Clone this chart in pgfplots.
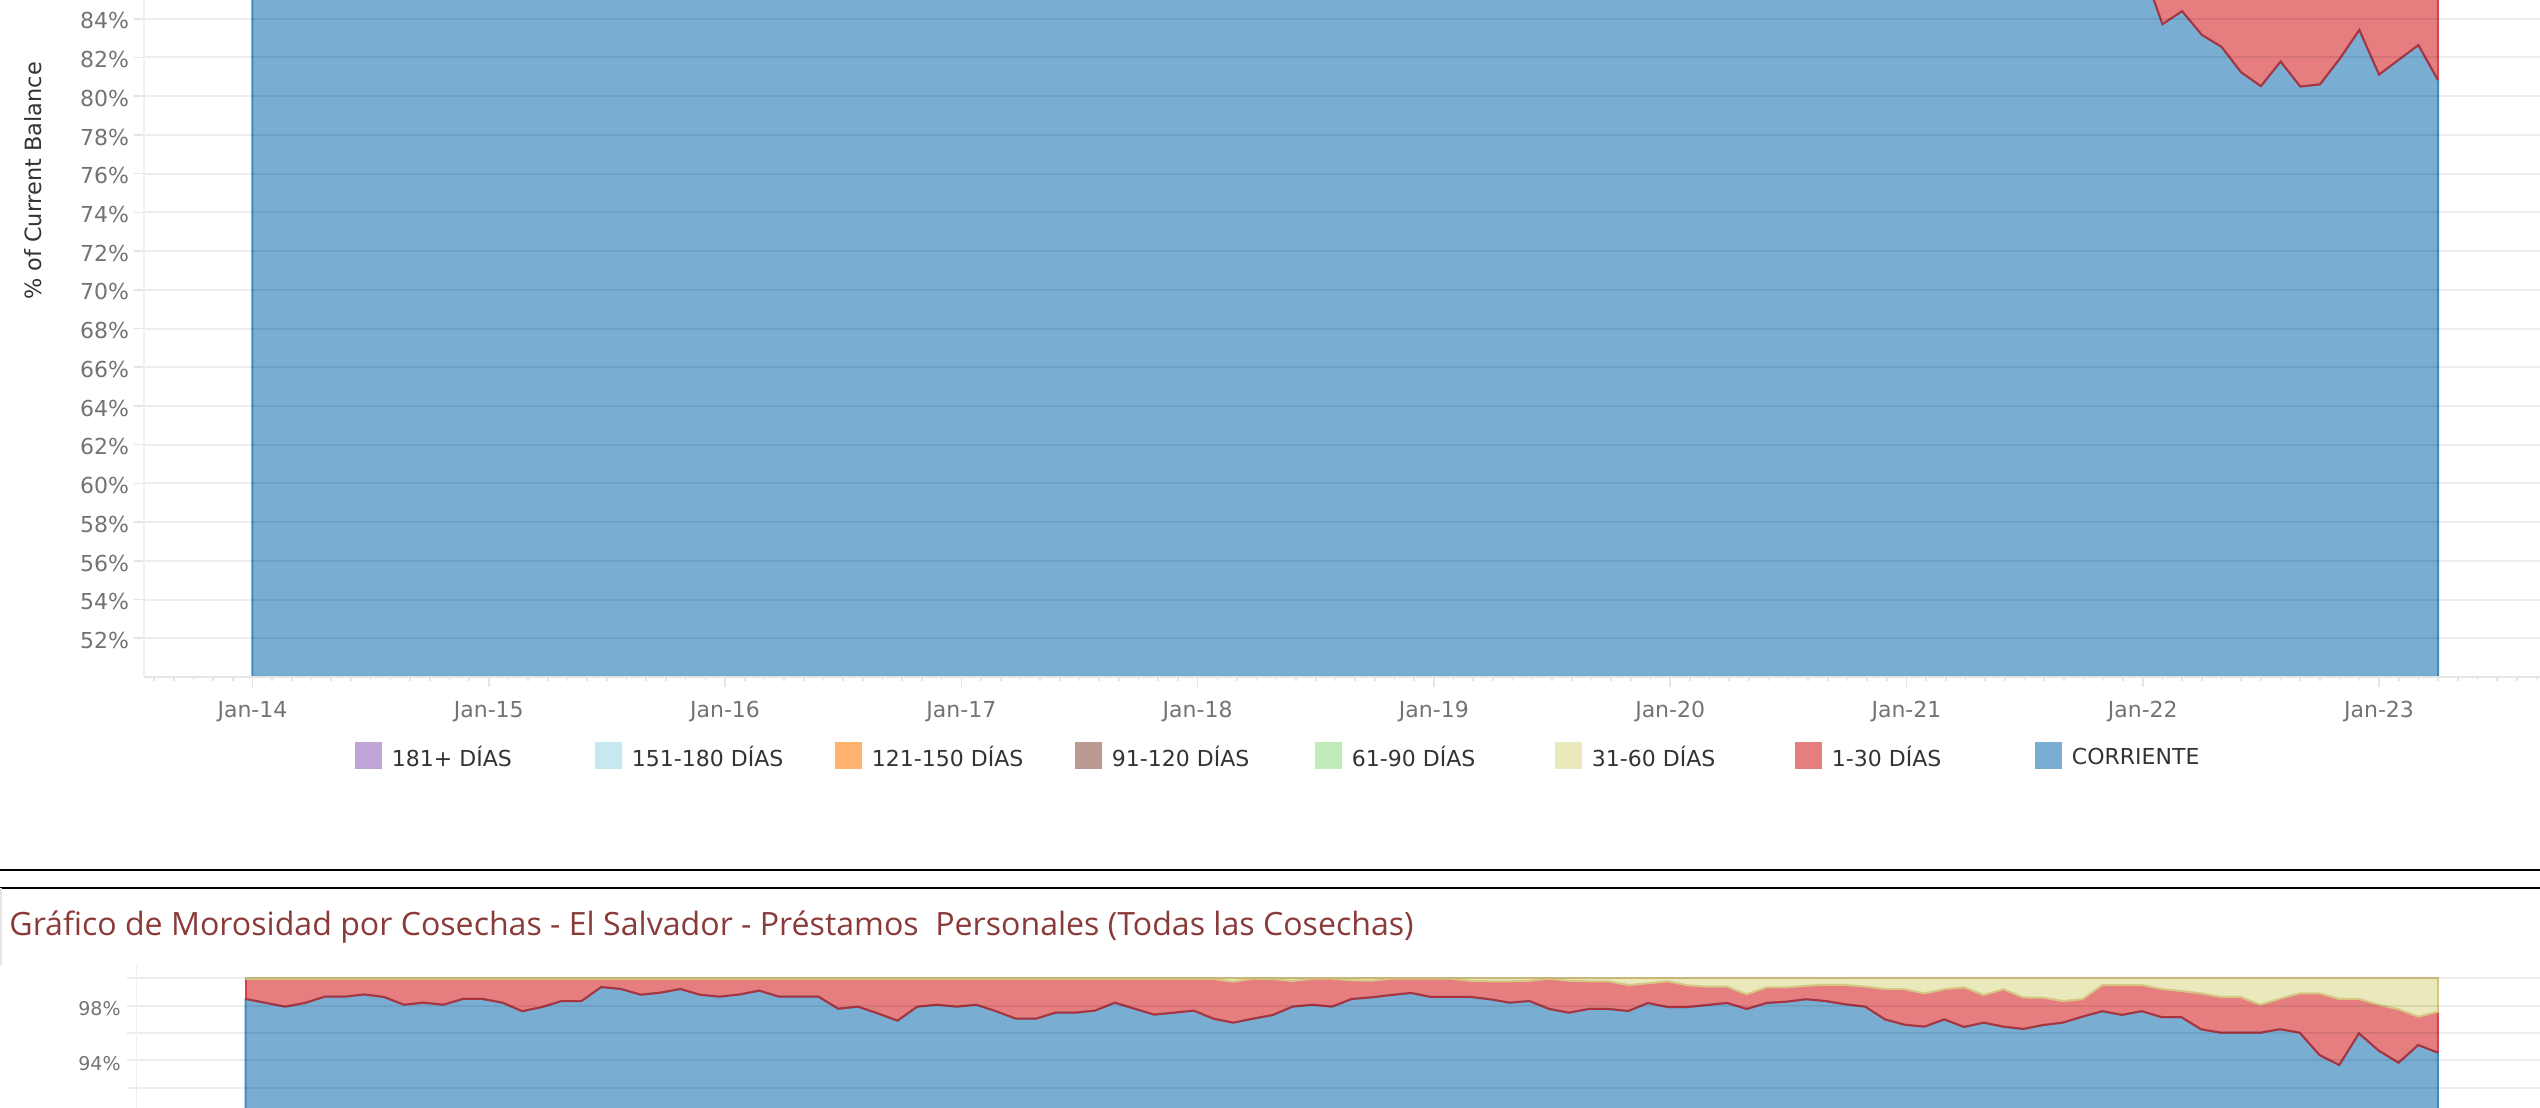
\documentclass[border=0pt]{standalone}
\usepackage{fontspec}
\setmainfont{DejaVu Sans}
\newfontfamily\titlefont{Open Sans}
\usepackage{pgfplots}
\pgfplotsset{compat=1.18}
\usepackage{pgfplotstable}

\definecolor{tBlue}{HTML}{1F77B4}
\definecolor{tRed}{HTML}{D62728}
\definecolor{tYel}{HTML}{DBDB8D}
\definecolor{tGreen}{HTML}{98DF8A}
\definecolor{tBrown}{HTML}{8C564B}
\definecolor{tOrange}{HTML}{FF7F0E}
\definecolor{tCyan}{HTML}{9EDAE5}
\definecolor{tPurple}{HTML}{9467BD}
\definecolor{tTitle}{RGB}{139,58,58}
\definecolor{tTan}{HTML}{D6C583}
\colorlet{fBlue}{tBlue!60!white}
\colorlet{fRed}{tRed!60!white}
\colorlet{fYel}{tYel!60!white}
\colorlet{fPurple}{tPurple!60!white}
\colorlet{fCyan}{tCyan!60!white}
\colorlet{fOrange}{tOrange!60!white}
\colorlet{fBrown}{tBrown!60!white}
\colorlet{fGreen}{tGreen!60!white}

% CORRIENTE share, top chart (month index 0 = Jan-14)
\pgfplotstableread{
k B
0 98.5
1 98.3
2 98.1
3 98.2
4 98.6
5 98.7
6 98.8
7 98.6
8 98.1
9 98.2
10 98.0
11 98.4
12 98.5
13 98.2
14 97.6
15 97.9
16 98.3
17 98.3
18 99.2
19 99.1
20 98.8
21 98.9
22 99.1
23 98.8
24 98.6
25 98.8
26 99.0
27 98.6
28 98.6
29 98.6
30 97.8
31 97.9
32 97.4
33 96.9
34 97.9
35 98.0
36 97.9
37 98.0
38 97.6
39 97.1
40 97.0
41 97.4
42 97.4
43 97.6
44 98.1
45 97.7
46 97.3
47 97.4
48 97.6
49 97.0
50 96.7
51 97.0
52 97.3
53 97.9
54 98.0
55 97.9
56 98.4
57 98.5
58 98.7
59 98.9
60 98.6
61 98.6
62 98.5
63 98.4
64 98.2
65 98.3
66 97.7
67 97.4
68 97.7
69 97.7
70 97.5
71 98.1
72 97.8
73 97.8
74 97.9
75 98.1
76 97.7
77 98.2
78 98.3
79 98.4
80 98.3
81 98.0
82 97.8
83 96.9
84 96.2
85 95.4
86 94.9
87 93.6
88 93.1
89 92.0
90 91.7
91 90.4
92 90.2
93 89.1
94 89.3
95 88.4
96 86.57
97 83.72
98 84.39
99 83.17
100 82.55
101 81.23
102 80.52
103 81.79
104 80.50
105 80.61
106 81.93
107 83.42
108 81.12
109 81.88
110 82.64
111 80.82
}\topdata

% bottom chart: B = CORRIENTE, R = CORRIENTE + 1-30 DIAS
\pgfplotstableread{
k B R
0 98.49 99.95
1 98.21 99.95
2 97.93 99.95
3 98.20 99.95
4 98.66 99.95
5 98.66 99.95
6 98.82 99.95
7 98.64 99.95
8 98.07 99.95
9 98.22 99.95
10 98.07 99.95
11 98.49 99.95
12 98.49 99.95
13 98.22 99.95
14 97.60 99.95
15 97.90 99.95
16 98.34 99.95
17 98.34 99.95
18 99.36 99.95
19 99.22 99.95
20 98.80 99.95
21 98.95 99.95
22 99.22 99.95
23 98.80 99.95
24 98.66 99.95
25 98.82 99.95
26 99.10 99.95
27 98.66 99.95
28 98.66 99.95
29 98.66 99.95
30 97.78 99.95
31 97.93 99.95
32 97.44 99.95
33 96.91 99.95
34 97.93 99.95
35 98.07 99.95
36 97.93 99.95
37 98.07 99.95
38 97.59 99.95
39 97.05 99.95
40 97.05 99.95
41 97.49 99.95
42 97.49 99.95
43 97.64 99.95
44 98.22 99.95
45 97.78 99.95
46 97.35 99.95
47 97.49 99.95
48 97.64 99.95
49 97.05 99.95
50 96.76 99.75
51 97.05 99.97
52 97.32 99.95
53 97.93 99.80
54 98.07 99.97
55 97.93 99.97
56 98.49 99.85
57 98.61 99.82
58 98.78 99.97
59 98.93 99.97
60 98.64 99.97
61 98.64 99.97
62 98.64 99.82
63 98.47 99.78
64 98.22 99.78
65 98.34 99.82
66 97.76 99.97
67 97.49 99.82
68 97.76 99.78
69 97.76 99.78
70 97.61 99.51
71 98.20 99.63
72 97.90 99.78
73 97.90 99.49
74 98.05 99.39
75 98.20 99.39
76 97.76 98.83
77 98.20 99.34
78 98.29 99.34
79 98.47 99.45
80 98.34 99.53
81 98.10 99.51
82 97.93 99.39
83 97.00 99.22
84 96.61 99.20
85 96.47 98.90
86 97.00 99.20
87 96.45 99.34
88 96.76 98.78
89 96.47 99.20
90 96.30 98.60
91 96.59 98.59
92 96.76 98.34
93 97.20 98.47
94 97.60 99.51
95 97.33 99.51
96 97.60 99.51
97 97.17 99.22
98 97.17 99.07
99 96.28 98.90
100 96.03 98.64
101 96.03 98.64
102 96.03 98.07
103 96.28 98.51
104 96.03 98.90
105 94.40 98.90
106 93.67 98.49
107 95.98 98.49
108 94.72 98.07
109 93.84 97.74
110 95.13 97.20
111 94.57 97.56
}\botdata

\begin{document}
\begin{tikzpicture}

% ---------------- top chart ----------------
\begin{axis}[
  at={(72pt,215.5pt)}, anchor=south west,
  scale only axis,
  x=9.845pt, y=9.68pt,
  xmin=-5.51, xmax=117, ymin=50, ymax=100,
  axis on top,
  axis x line*=bottom, axis y line*=left,
  x axis line style={draw=black!10, line width=1pt},
  y axis line style={draw=black!6, line width=0.6pt},
  tick align=outside,
  major tick length=5pt, minor tick length=2.25pt,
  tick style={draw=black!10, line width=0.8pt},
  xtick={-12,0,12,24,36,48,60,72,84,96,108,120},
  xticklabels={Jan-13,Jan-14,Jan-15,Jan-16,Jan-17,Jan-18,Jan-19,Jan-20,Jan-21,Jan-22,Jan-23,Jan-24},
  minor x tick num=11,
  ytick={52,54,...,84},
  extra y ticks={86,88,...,100},
  extra y tick labels={},
  yticklabel={\pgfmathprintnumber{\tick}\%},
  /pgf/number format/assume math mode=true,
  ymajorgrids,
  grid style={draw=black, draw opacity=0.07, line width=1pt},
  extra y tick style={grid=major},
  tick label style={font=\fontsize{11pt}{13pt}\selectfont, text=black!55, inner sep=0pt},
  yticklabel style={anchor=east, yshift=-1.1pt},
  xticklabel style={anchor=north},
  yticklabel shift=2.25pt, xticklabel shift=7pt,
  legend columns=8,
  legend cell align=left,
  legend style={at={(0.08747,-0.0814)}, anchor=west,
    draw=none, fill=none, inner sep=0pt, outer sep=0pt,
    font=\fontsize{11pt}{13pt}\selectfont, text=black!80,
    /tikz/every odd column/.style={column sep=5pt},
    nodes={inner sep=0pt}},
]
% 1-30 DIAS band (stack top = 100 %)
\addplot[fill=fRed, draw=none, forget plot] coordinates {(0,100) (111,100)} \closedcycle;
% CORRIENTE
\addplot[fill=fBlue, draw=tBlue!85, line width=1pt, forget plot] table[x=k,y=B]{\topdata} \closedcycle;
\addplot[draw=tRed!90!black, draw opacity=0.85, line width=1pt, forget plot] table[x=k,y=B]{\topdata};
\addplot[draw=tRed, draw opacity=0.8, line width=1pt, forget plot] coordinates {(111,80.82) (111,100)};

\addlegendimage{legend image code/.code={\path[fill=fPurple, draw=none] (0pt,-5.25pt) rectangle (13.5pt,8.25pt);}}
\addlegendentry{\makebox[101.5pt][l]{181+ DÍAS}}
\addlegendimage{legend image code/.code={\path[fill=fCyan, draw=none] (0pt,-5.25pt) rectangle (13.5pt,8.25pt);}}
\addlegendentry{\makebox[101.5pt][l]{151-180 DÍAS}}
\addlegendimage{legend image code/.code={\path[fill=fOrange, draw=none] (0pt,-5.25pt) rectangle (13.5pt,8.25pt);}}
\addlegendentry{\makebox[101.5pt][l]{121-150 DÍAS}}
\addlegendimage{legend image code/.code={\path[fill=fBrown, draw=none] (0pt,-5.25pt) rectangle (13.5pt,8.25pt);}}
\addlegendentry{\makebox[101.5pt][l]{91-120 DÍAS}}
\addlegendimage{legend image code/.code={\path[fill=fGreen, draw=none] (0pt,-5.25pt) rectangle (13.5pt,8.25pt);}}
\addlegendentry{\makebox[101.5pt][l]{61-90 DÍAS}}
\addlegendimage{legend image code/.code={\path[fill=fYel, draw=none] (0pt,-5.25pt) rectangle (13.5pt,8.25pt);}}
\addlegendentry{\makebox[101.5pt][l]{31-60 DÍAS}}
\addlegendimage{legend image code/.code={\path[fill=fRed, draw=none] (0pt,-5.25pt) rectangle (13.5pt,8.25pt);}}
\addlegendentry{\makebox[101.5pt][l]{1-30 DÍAS}}
\addlegendimage{legend image code/.code={\path[fill=fBlue, draw=none] (0pt,-5.25pt) rectangle (13.5pt,8.25pt);}}
\addlegendentry{\makebox[101.5pt][l]{CORRIENTE}}
\end{axis}

\node[rotate=90, text=black!80, font=\fontsize{11.2pt}{13pt}\selectfont] at (16.5pt,463.5pt) {\% of Current Balance};

% separators
\draw[line width=1pt] (0pt,119pt) -- (1270pt,119pt);
\draw[line width=1pt] (0pt,110pt) -- (1270pt,110pt);
\draw[black!10, line width=0.6pt] (0.5pt,110pt) -- (0.5pt,71.5pt);

\node[anchor=base west, inner sep=0pt, text=tTitle, font=\titlefont\fontsize{16.05pt}{19pt}\selectfont] at (4.5pt,86pt)
  {Gráfico de Morosidad por Cosechas - El Salvador - Préstamos\ \ Personales (Todas las Cosechas)};

% ---------------- bottom chart ----------------
\begin{axis}[
  at={(68.35pt,-31.05pt)}, anchor=south west,
  scale only axis,
  x=9.875pt, y=6.85pt,
  xmin=-5.52, xmax=117, ymin=86, ymax=100.97,
  axis on top,
  hide x axis,
  axis y line*=left,
  y axis line style={draw=black!6, line width=0.6pt},
  tick align=outside,
  major tick length=5pt, minor tick length=5pt,
  tick style={draw=black!7, line width=1pt},
  ytick={94,98}, minor ytick={88,90,92,96,100},
  yticklabel={\pgfmathprintnumber{\tick}\%},
  /pgf/number format/assume math mode=true,
  ymajorgrids, yminorgrids,
  major grid style={draw=black, draw opacity=0.07, line width=1pt},
  minor grid style={draw=black, draw opacity=0.07, line width=1pt},
  tick label style={font=\fontsize{9.5pt}{11pt}\selectfont, text=black!55, inner sep=0pt},
  yticklabel style={anchor=east, yshift=-1.4pt},
  yticklabel shift=2.85pt,
]
% 31-60 DIAS band (stack top = 100 %)
\addplot[fill=fYel, draw=none, forget plot] coordinates {(0,100) (111,100)} \closedcycle;
% 1-30 DIAS band
\addplot[fill=fRed, draw=none, forget plot] table[x=k,y=R]{\botdata} \closedcycle;
% CORRIENTE
\addplot[fill=fBlue, draw=tBlue!85, line width=1pt, forget plot] table[x=k,y=B]{\botdata} \closedcycle;
\addplot[draw=tRed!90!black, draw opacity=0.85, line width=1pt, forget plot] table[x=k,y=B]{\botdata};
\addplot[draw=tRed, draw opacity=0.8, line width=1pt, forget plot] coordinates {(0,98.49) (0,99.95)};
\addplot[draw=tRed, draw opacity=0.8, line width=1pt, forget plot] coordinates {(111,94.57) (111,97.56)};
\addplot[draw=tTan, line width=1pt, forget plot] table[x=k,y=R]{\botdata};
\addplot[draw=tTan, line width=1pt, forget plot] coordinates {(0,99.95) (0,100) (111,100) (111,97.56)};
\end{axis}

\pgfresetboundingbox
\path[use as bounding box] (0,0) rectangle (1270pt,554pt);
\end{tikzpicture}
\end{document}
